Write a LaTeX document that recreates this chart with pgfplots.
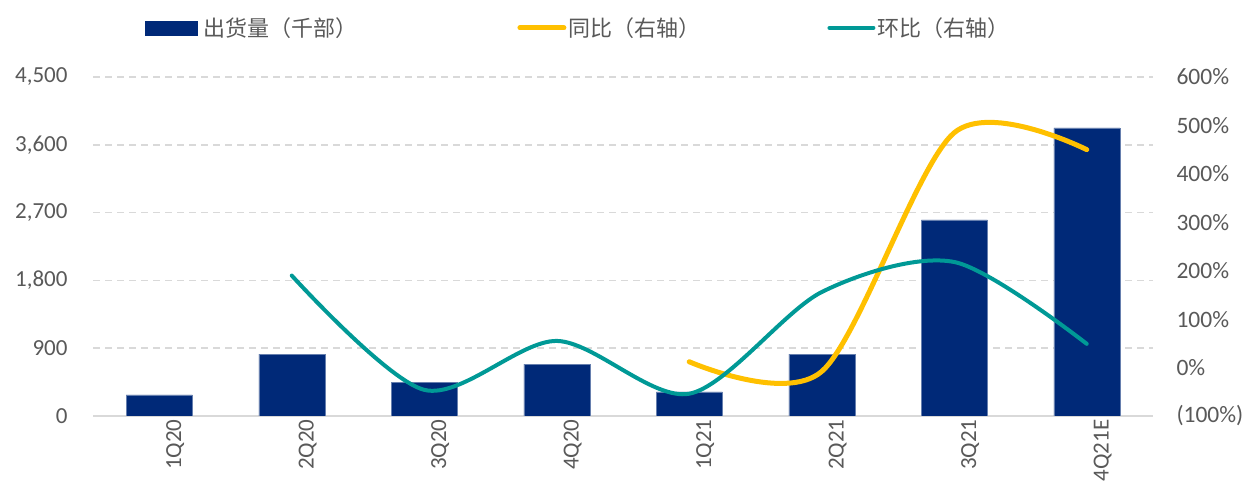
\documentclass[border=0pt]{standalone}
\usepackage{pgfplots}
\pgfplotsset{compat=1.18}
\usepackage{fontspec}
\setmainfont{Carlito}
\newfontfamily\cjk{Noto Sans CJK SC}
\definecolor{navy}{RGB}{0,41,120}
\definecolor{gold}{RGB}{255,192,0}
\definecolor{teal2}{RGB}{0,153,150}
\definecolor{tgray}{RGB}{89,89,89}
\definecolor{ggray}{RGB}{217,217,217}
\begin{document}
\begin{tikzpicture}
\useasboundingbox (0,0) rectangle (1243bp,493bp);
\begin{axis}[
  at={(93bp,77bp)}, anchor=south west,
  scale only axis, width=1060bp, height=339bp,
  xmin=-0.5, xmax=7.5,
  ymin=0, ymax=4500,
  ytick={0,900,1800,2700,3600,4500},
  xtick={0,...,7},
  xticklabels={1Q20,2Q20,3Q20,4Q20,1Q21,2Q21,3Q21,4Q21E},
  x tick label style={rotate=90, anchor=east, font=\fontsize{23bp}{25bp}\selectfont, text=tgray},
  y tick label style={font=\fontsize{23bp}{25bp}\selectfont, text=tgray},
  /pgf/number format/assume math mode=true,
  /pgf/number format/1000 sep={,},
  major tick length=0pt,
  axis y line*=left,
  y axis line style={draw=none},
  axis x line*=bottom,
  x axis line style={draw=ggray, line width=1.5bp, -},
  yticklabel style={xshift=-22bp},
  xticklabel style={yshift=-16bp},
  ymajorgrids=true,
  major grid style={draw=ggray, line width=1.5bp, dash pattern=on 7bp off 5bp},
  legend style={at={(0.046,1.145)}, anchor=west, draw=none, fill=none,
    font=\cjk\fontsize{22bp}{24bp}\selectfont, text=tgray,
    legend columns=3,
    /tikz/column 2/.style={column sep=158bp},
    /tikz/column 4/.style={column sep=125bp}},
  legend cell align=left,
]
\addplot[ybar, bar width=66bp, fill=navy, draw=navy!60!white, line width=0.5bp,
  legend image code/.code={\fill[navy] (0bp,-7bp) rectangle (52bp,7bp); \path (56bp,0bp);}]
  coordinates {(0,279) (1,823) (2,451) (3,690) (4,319) (5,823) (6,2603) (7,3825)};
\addlegendentry{出货量（千部）}
\addlegendimage{legend image code/.code={\draw[gold, line width=5bp, line cap=round] (2bp,0bp) -- (46bp,0bp);}}
\addlegendentry{同比（右轴）}
\addlegendimage{legend image code/.code={\draw[teal2, line width=4bp, line cap=round] (2bp,0bp) -- (46bp,0bp);}}
\addlegendentry{环比（右轴）}
\end{axis}
\begin{axis}[
  at={(93bp,77bp)}, anchor=south west,
  scale only axis, width=1060bp, height=339bp,
  xmin=-0.5, xmax=7.5,
  ymin=-100, ymax=600,
  ytick={-100,0,100,200,300,400,500,600},
  yticklabels={(100\%),0\%,100\%,200\%,300\%,400\%,500\%,600\%},
  y tick label style={font=\fontsize{23.5bp}{25bp}\selectfont, text=tgray, anchor=west},
  yticklabel style={xshift=20bp},
  /pgf/number format/assume math mode=true,
  axis x line=none,
  axis y line*=right,
  y axis line style={draw=none},
  major tick length=0pt,
  xtick=\empty,
]
\addplot[gold, line width=5bp, line cap=round, smooth, mark=none]
  coordinates {(4,12) (5,-8) (6,485) (7,450)};
\addplot[teal2, line width=4bp, line cap=round, smooth, mark=none]
  coordinates {(1,190) (2,-46) (3,55) (4,-54) (5,156) (6,218) (7,49)};
\end{axis}
\end{tikzpicture}
\end{document}
